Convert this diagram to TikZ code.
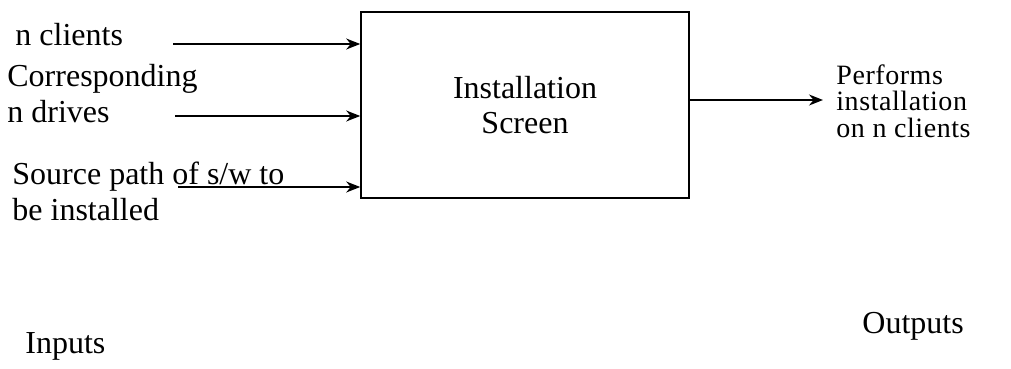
\documentclass[tikz,border=0pt]{standalone}
\usepackage{fontspec}
\setmainfont{Liberation Serif}
\usetikzlibrary{arrows.meta,positioning,calc}

\begin{document}
\begin{tikzpicture}[x=0.5pt,y=-0.5pt,
    lbl/.style={inner sep=0pt,anchor=base west,align=left,font=\fontsize{16}{17.5}\selectfont},
    outlbl/.style={inner sep=0pt,anchor=base west,align=left,font=\fontsize{14}{13.2}\selectfont\addfontfeature{LetterSpace=2}},
    flow/.style={-{Stealth[length=7pt,width=5.5pt]},line width=0.8pt}]
        \useasboundingbox (0,0) rectangle (1011,369);
        \node[draw,line width=0.8pt,minimum width=164pt,minimum height=93pt,align=center,font=\fontsize{16}{17.5}\selectfont] (screen) at (525,105) {Installation\\Screen};
        % labels: base is the baseline of the last line
        \node[lbl] (clients) at (15,46) {n clients};
        \node[lbl] (drives) at (7,122) {Corresponding\\n drives};
        \node[lbl] (source) at (12,220) {Source path of s/w to\\be installed};
        \node[outlbl] (perform) at (836,137) {Performs\\installation\\on n clients};
        \node[lbl] (inputs) at (25,353) {Inputs};
        \node[lbl] (outputs) at (862,333) {Outputs};
        \coordinate (in1) at (173,44);
        \coordinate (in2) at (175,116);
        \coordinate (in3) at (178,187);
        \coordinate (out) at (823,100);
        \draw[flow] (in1) -- (in1 -| screen.west);
        \draw[flow] (in2) -- (in2 -| screen.west);
        \draw[flow] (in3) -- (in3 -| screen.west);
        \draw[flow] (out -| screen.east) -- (out);
      \end{tikzpicture}
\end{document}
